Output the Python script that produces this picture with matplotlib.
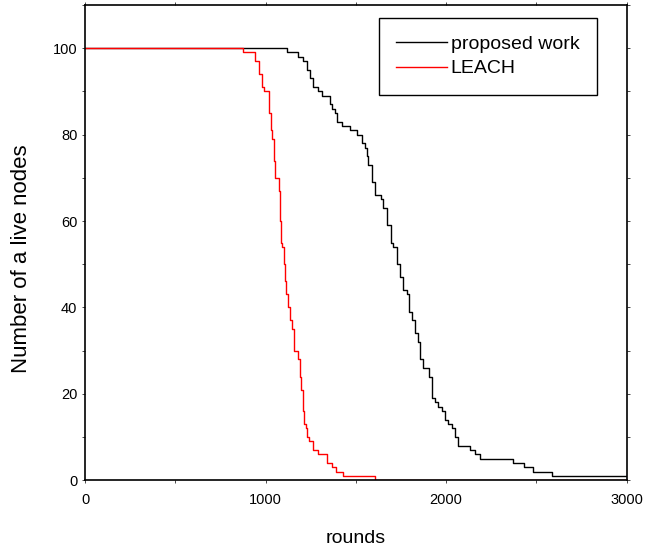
import matplotlib
matplotlib.use("Agg")
import matplotlib.pyplot as plt
from matplotlib.ticker import MultipleLocator

plt.rcParams['font.family'] = ['Liberation Sans', 'DejaVu Sans']

# alive nodes vs rounds
proposed_rounds = [0, 1118, 1179, 1207, 1229, 1245, 1262, 1290, 1312, 1356, 1367, 1384,
                   1395, 1422, 1467, 1505, 1533, 1550, 1561, 1566, 1589, 1605, 1638, 1649,
                   1672, 1694, 1705, 1727, 1744, 1760, 1782, 1793, 1810, 1827, 1843, 1854,
                   1871, 1904, 1921, 1937, 1954, 1976, 1993, 2009, 2031, 2048, 2064, 2131,
                   2159, 2186, 2369, 2430, 2480, 2585, 3000]
proposed_alive = [100, 99, 98, 97, 95, 93, 91, 90, 89, 87, 86, 85,
                  83, 82, 81, 80, 78, 77, 75, 73, 69, 66, 65, 63,
                  59, 55, 54, 50, 47, 44, 43, 39, 37, 34, 32, 28,
                  26, 24, 19, 18, 17, 16, 14, 13, 12, 10, 8, 7,
                  6, 5, 4, 3, 2, 1, 1]

leach_rounds = [0, 875, 941, 963, 980, 991, 1018, 1030, 1035, 1045, 1052, 1074, 1079,
                1085, 1090, 1101, 1107, 1115, 1124, 1135, 1146, 1157, 1179, 1190, 1196,
                1207, 1215, 1223, 1232, 1240, 1262, 1290, 1339, 1367, 1389, 1428, 1605, 3000]
leach_alive = [100, 99, 97, 94, 91, 90, 85, 81, 79, 74, 70, 67, 60,
               55, 54, 50, 46, 43, 40, 37, 35, 30, 28, 24, 21,
               16, 13, 12, 10, 9, 7, 6, 4, 3, 2, 1, 0, 0]

fig = plt.figure(figsize=(6.59, 5.52), dpi=100)
ax = fig.add_axes([0.129, 0.130, 0.822, 0.861])

ax.plot(proposed_rounds, proposed_alive, drawstyle='steps-post', color='black', lw=1.0,
        label='proposed work')
ax.plot(leach_rounds, leach_alive, drawstyle='steps-post', color='red', lw=1.0,
        label='LEACH')

ax.set_xlim(0, 3000)
ax.set_ylim(0, 110)
ax.xaxis.set_major_locator(MultipleLocator(1000))
ax.xaxis.set_minor_locator(MultipleLocator(500))
ax.yaxis.set_major_locator(MultipleLocator(20))
ax.yaxis.set_minor_locator(MultipleLocator(10))
ax.tick_params(which='both', direction='out', top=True, labelsize=10.5, width=1)
ax.tick_params(which='major', length=5)
ax.tick_params(which='minor', length=3)
ax.tick_params(axis='x', which='major', pad=7)
ax.tick_params(which='both', right=True, length=2, width=0.5)  # faint on the right in the original
ax.tick_params(which='both', left=True, bottom=True, top=True)
for s in ax.spines.values():
    s.set_linewidth(1.2)

ax.set_xlabel('rounds', fontsize=14, labelpad=17)
ax.set_ylabel('Number of a live nodes', fontsize=16)
ax.yaxis.set_label_coords(-0.098, 0.467)

leg = ax.legend(loc='upper right', bbox_to_anchor=(0.945, 0.973), fontsize=14,
                fancybox=False, framealpha=1, edgecolor='black', handlelength=2.6,
                handletextpad=0.2, borderpad=0.9, labelspacing=0.35, borderaxespad=0)
leg.get_frame().set_linewidth(1.0)

fig.savefig('out.png', dpi=100)
